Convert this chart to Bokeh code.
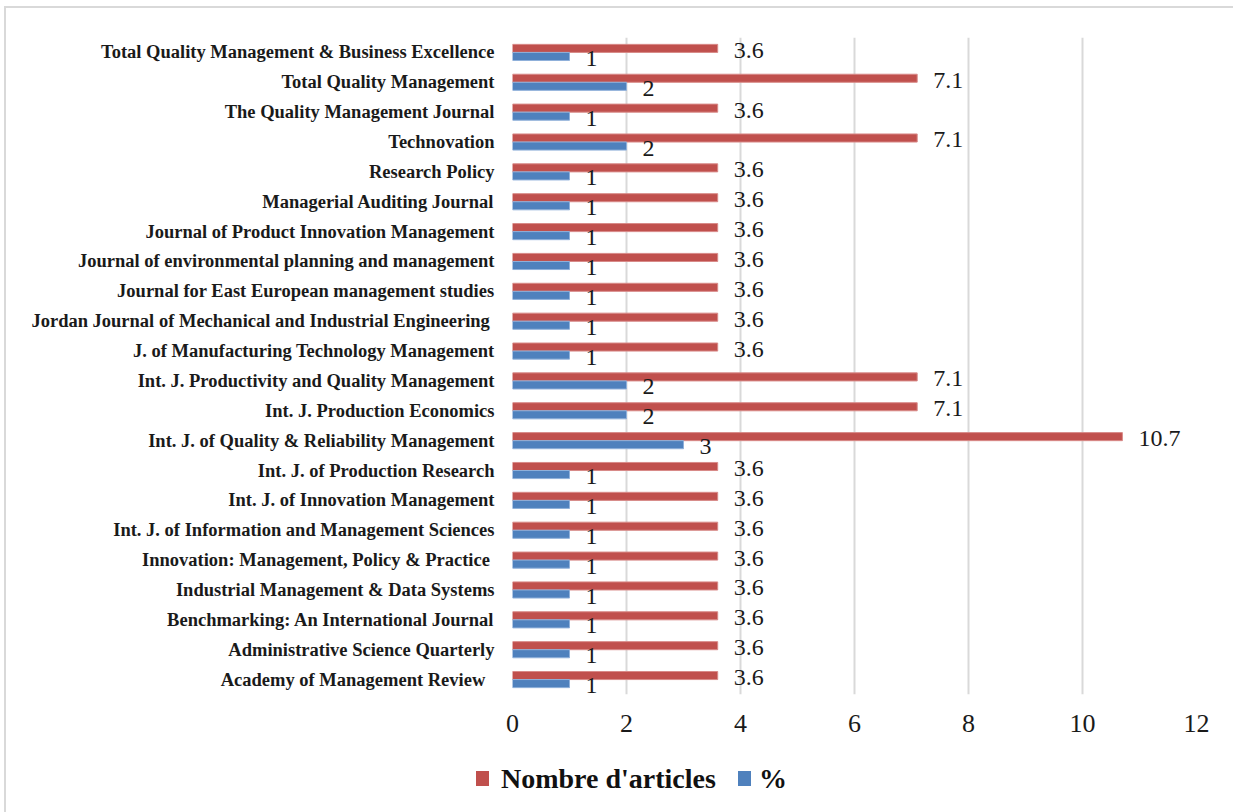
from bokeh.plotting import figure
from bokeh.models import FactorRange, ColumnDataSource, Div
from bokeh.layouts import column
from bokeh.transform import dodge
from bokeh.embed import file_html
from bokeh.resources import INLINE
from bokeh.core.properties import value

journals = [
    "Academy  of Management  Review",
    "Administrative Science Quarterly",
    "Benchmarking: An International Journal",
    "Industrial Management & Data Systems",
    "Innovation: Management, Policy & Practice ",
    "Int. J. of Information and Management Sciences",
    "Int. J. of Innovation Management",
    "Int. J. of Production Research",
    "Int. J. of Quality & Reliability Management",
    "Int. J. Production Economics",
    "Int. J. Productivity and Quality Management",
    "J. of Manufacturing Technology Management",
    "Jordan Journal of Mechanical and Industrial Engineering ",
    "Journal for East European management studies",
    "Journal of environmental planning and management",
    "Journal of Product Innovation Management",
    "Managerial Auditing Journal",
    "Research Policy",
    "Technovation",
    "The Quality Management Journal",
    "Total Quality Management",
    "Total Quality Management & Business Excellence",
]
articles = [3.6, 3.6, 3.6, 3.6, 3.6, 3.6, 3.6, 3.6, 10.7, 7.1, 7.1, 3.6, 3.6, 3.6, 3.6, 3.6, 3.6, 3.6, 7.1, 3.6, 7.1, 3.6]
percent = [1, 1, 1, 1, 1, 1, 1, 1, 3, 2, 2, 1, 1, 1, 1, 1, 1, 1, 2, 1, 2, 1]
x_ticks = [0, 2, 4, 6, 8, 10, 12]
series_names = ["Nombre d'articles", "%"]

RED = "#C0504D"
BLUE = "#4F81BD"

src = ColumnDataSource(dict(
    journal=journals,
    articles=articles,
    percent=percent,
    art_lbl=[f"{v:g}" for v in articles],
    pct_lbl=[f"{v:g}" for v in percent],
))

p = figure(
    width=1220, height=736,
    y_range=FactorRange(factors=journals, range_padding=0),
    x_range=(0, 12),
    output_backend="svg", toolbar_location=None,
    min_border_left=506, min_border_right=30,
    min_border_top=29, min_border_bottom=50,
)
p.outline_line_color = None

p.xgrid.grid_line_color = "#d9d9d9"
p.xgrid.grid_line_width = 2
p.xgrid.ticker = x_ticks
p.ygrid.grid_line_color = None

p.hbar(y=dodge("journal", 0.135, range=p.y_range), right="articles", left=0,
       height=0.27, source=src, fill_color=RED, line_color="#d88a88", line_width=1,
       legend_label=series_names[0])
p.hbar(y=dodge("journal", -0.135, range=p.y_range), right="percent", left=0,
       height=0.27, source=src, fill_color=BLUE, line_color="#8fb0da", line_width=1,
       legend_label=series_names[1])
p.legend.visible = False

p.text(x="articles", y=dodge("journal", 0.135, range=p.y_range), text="art_lbl", source=src,
       x_offset=16, y_offset=2, text_baseline="middle", text_align="left",
       text_font=value("Liberation Serif"), text_font_size="24px", text_color="#1a1a1a")
p.text(x="percent", y=dodge("journal", -0.135, range=p.y_range), text="pct_lbl", source=src,
       x_offset=16, y_offset=2, text_baseline="middle", text_align="left",
       text_font=value("Liberation Serif"), text_font_size="24px", text_color="#1a1a1a")

p.xaxis.ticker = x_ticks
p.xaxis.axis_line_color = None
p.xaxis.major_tick_line_color = None
p.xaxis.minor_tick_line_color = None
p.xaxis.major_label_text_font = "Liberation Serif"
p.xaxis.major_label_text_font_size = "26px"
p.xaxis.major_label_text_color = "#1a1a1a"
p.xaxis.major_label_standoff = 14

p.yaxis.axis_line_color = None
p.yaxis.major_tick_line_color = None
p.yaxis.minor_tick_line_color = None
p.yaxis.major_label_text_font = "Liberation Serif"
p.yaxis.major_label_text_font_style = "bold"
p.yaxis.major_label_text_font_size = "18.5px"
p.yaxis.major_label_text_color = "#1a1a1a"
p.yaxis.major_label_standoff = 12

# legend strip below the chart
sw = "display:inline-block;width:13px;height:15px;flex:none;"
legend_html = (
    "<div style=\"display:flex;align-items:center;height:59px;box-sizing:border-box;"
    "padding-top:0px;padding-left:465px;font-family:'Liberation Serif';font-weight:bold;"
    "font-size:28px;color:#111111;white-space:nowrap;\">"
    f"<span style=\"{sw}background:{RED};margin-right:12px;\"></span>"
    f"<span>{series_names[0]}</span>"
    f"<span style=\"{sw}background:{BLUE};margin-left:22px;margin-right:8px;\"></span>"
    f"<span>{series_names[1]}</span>"
    "</div>"
)
legend_div = Div(text=legend_html, width=1220, height=59)

layout = column(p, legend_div, spacing=0, margin=(6, 0, 0, 4),
                styles={"border": "2px solid #d9d9d9", "background-color": "white"})

open("out.html", "w").write(file_html(layout, INLINE))
